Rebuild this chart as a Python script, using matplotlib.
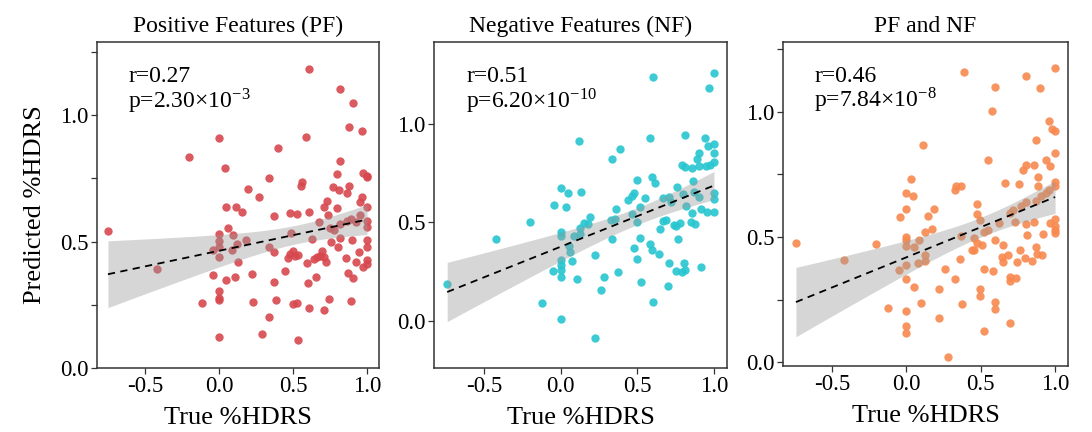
import numpy as np
import matplotlib
matplotlib.use("Agg")
import matplotlib.pyplot as plt

plt.rcParams['font.family'] = ['Liberation Serif', 'DejaVu Serif']
plt.rcParams['mathtext.fontset'] = 'stix'

# ---------------- data ----------------
titles = ["Positive Features (PF)", "Negative Features (NF)", "PF and NF"]
r_labels = ["r=0.27", "r=0.51", "r=0.46"]
p_labels = [r"p=2.30×10$^{\mathregular{-3}}$", r"p=6.20×10$^{\mathregular{-10}}$",
            r"p=7.84×10$^{\mathregular{-8}}$"]
x_label = "True %HDRS"
y_label = "Predicted %HDRS"
x_ticks = [-0.5, 0.0, 0.5, 1.0]

pf_x = [-0.75, -0.42, -0.20, 0.00, 0.04, 0.05, 0.115, 0.063, 0.00, 0.097, 0.00, 0.00,
        -0.04, 0.086, 0.124, 0.00, 0.13, -0.043, 0.05, 0.108, 0.00, 0.00, 0.00, -0.115,
        0.00,
        0.606, 0.815, 0.908, 0.878, 0.968, 0.588, 0.396, 0.82, 0.797, 0.971, 1.00, 1.00,
        0.338, 0.561, 0.554, 0.198, 0.77, 0.813, 0.878, 0.863, 0.272, 0.968, 0.953,
        0.728, 0.712, 0.80, 1.00, 0.157, 0.37, 0.48, 0.525, 0.606, 0.739, 0.673, 0.82,
        0.865, 0.89, 0.926, 0.955, 1.00, 1.00, 0.752, 0.775, 0.484, 0.628, 0.18, 0.755,
        0.815, 0.899, 1.00, 0.336, 0.806, 1.00, 0.37, 0.502, 0.482, 0.468, 0.514, 0.536,
        0.696, 0.684, 0.66, 0.644, 0.712, 0.856, 0.944, 0.592, 0.725, 0.926, 1.00, 0.975,
        1.00, 0.446, 0.225, 0.874, 0.655, 0.603, 0.903, 0.374, 0.23, 0.383, 0.502,
        0.529, 0.606, 0.709, 0.743, 0.89, 0.338, 0.29, 0.532]
pf_y = [0.54, 0.39, 0.835, 0.91, 0.79, 0.635, 0.635, 0.555, 0.53, 0.524, 0.503, 0.477,
        0.466, 0.466, 0.49, 0.439, 0.42, 0.366, 0.347, 0.36, 0.304, 0.278, 0.27, 0.258,
        0.123,
        1.184, 1.105, 1.047, 0.954, 0.937, 0.913, 0.87, 0.82, 0.769, 0.772, 0.759, 0.755,
        0.752, 0.736, 0.719, 0.709, 0.715, 0.702, 0.719, 0.692, 0.677, 0.677, 0.655,
        0.66, 0.636, 0.631, 0.635, 0.617, 0.60, 0.611, 0.607, 0.617, 0.606, 0.577, 0.568,
        0.583, 0.589, 0.578, 0.605, 0.582, 0.559, 0.555, 0.545, 0.532, 0.51, 0.505, 0.50,
        0.513, 0.507, 0.505, 0.48, 0.48, 0.477, 0.457, 0.464, 0.449, 0.434, 0.441, 0.447,
        0.464, 0.444, 0.439, 0.432, 0.439, 0.434, 0.457, 0.416, 0.42, 0.418, 0.427, 0.40,
        0.413, 0.385, 0.37, 0.377, 0.358, 0.337, 0.354, 0.341, 0.261, 0.269, 0.253,
        0.258, 0.236, 0.23, 0.271, 0.263, 0.202, 0.134, 0.109]

nf_x = [-0.74, -0.42, -0.203, -0.122, 0.00, 0.118, 0.00, 0.048, 0.131, -0.044, 0.037,
        0.00, 0.00, 0.087, 0.128, 0.126, 0.15, 0.054, 0.059, 0.076, 0.00, 0.00, 0.00,
        -0.048, 0.00, 0.105,
        0.601, 1.00, 0.969, 0.584, 0.808, 0.39, 0.333, 0.943, 0.958, 1.00, 1.00, 0.902,
        0.889, 0.789, 0.81, 0.858, 0.902, 0.946, 0.972, 1.00, 0.595, 0.616, 0.499, 0.86,
        0.762, 0.479, 0.468, 0.551, 0.44, 0.667, 0.708, 0.723, 0.799, 0.871, 0.903,
        0.815, 1.00, 1.00, 1.00, 0.915, 0.954, 0.858, 0.518, 0.364, 0.19, 0.178, 0.331,
        0.357, 0.466, 0.499, 0.667, 0.688, 0.651, 0.739, 0.776, 0.848, 0.876, 0.752,
        0.333, 0.516, 0.767, 0.584, 0.597, 0.643, 0.479, 0.496, 0.222, 0.706, 0.806,
        0.81, 0.752, 0.793, 0.913, 0.376, 0.285, 0.266, 0.527, 0.701, 0.601, 0.222]
nf_y = [0.188, 0.418, 0.504, 0.09, 0.009, 0.912, 0.675, 0.648, 0.655, 0.587, 0.58,
        0.45, 0.431, 0.431, 0.442, 0.474, 0.496, 0.381, 0.352, 0.305, 0.31, 0.284, 0.259,
        0.254, 0.223, 0.213,
        1.24, 1.26, 1.181, 0.93, 0.944, 0.873, 0.821, 0.93, 0.888, 0.897, 0.851, 0.851,
        0.822, 0.792, 0.782, 0.778, 0.787, 0.788, 0.792, 0.807, 0.729, 0.702, 0.716,
        0.712, 0.679, 0.651, 0.636, 0.623, 0.614, 0.623, 0.631, 0.602, 0.643, 0.655,
        0.631, 0.585, 0.651, 0.618, 0.552, 0.567, 0.555, 0.55, 0.58, 0.567, 0.529, 0.491,
        0.513, 0.518, 0.543, 0.504, 0.508, 0.513, 0.467, 0.487, 0.499, 0.503, 0.491,
        0.484, 0.418, 0.421, 0.415, 0.389, 0.359, 0.34, 0.369, 0.316, 0.333, 0.296,
        0.296, 0.259, 0.252, 0.247, 0.272, 0.247, 0.222, 0.154, 0.195, 0.179, 0.096,
        -0.09]

both_x = [-0.743, -0.422, -0.204, -0.121, 0.114, 0.034, 0.00, 0.047, 0.00, -0.045, 0.143,
          0.00, 0.00, 0.085, 0.128, 0.00, 0.054, 0.076, 0.126, 0.126, 0.00, -0.047, 0.00,
          0.049, 0.101, 0.00, 0.00, 0.00,
          0.386, 0.599, 0.806, 0.898, 0.999, 0.579, 0.958, 0.979, 0.999, 0.869, 1.00,
          0.552, 0.936, 0.963, 0.806, 0.855, 0.786, 0.884, 0.997, 0.999, 0.887, 0.958,
          0.941, 0.335, 0.364, 0.33, 0.665, 0.756, 0.904, 0.873, 0.806, 0.772, 0.716,
          0.698, 0.732, 0.806, 0.855, 0.999, 0.963, 0.999, 1.00, 1.00, 0.916, 0.808,
          0.476, 0.474, 0.496, 0.62, 0.552, 0.521, 0.37, 0.456, 0.186, 0.173, 0.595,
          0.474, 0.51, 0.438, 0.458, 0.649, 0.761, 0.869, 0.877, 0.911, 0.64, 0.685,
          0.649, 0.745, 0.797, 0.842, 0.362, 0.263, 0.521, 0.584, 0.33, 0.694, 0.698,
          0.738, 0.218, 0.496, 0.496, 0.375, 0.597, 0.597, 0.222, 0.70, 0.525, 0.283]
both_y = [0.477, 0.41, 0.471, 0.218, 0.867, 0.732, 0.677, 0.665, 0.614, 0.579, 0.586,
          0.499, 0.49, 0.49, 0.521, 0.466, 0.462, 0.397, 0.406, 0.43, 0.388, 0.369, 0.331,
          0.303, 0.239, 0.207, 0.145, 0.118,
          1.158, 1.097, 1.142, 1.093, 1.174, 1.001, 0.963, 0.931, 0.925, 0.887, 0.835,
          0.808, 0.806, 0.782, 0.789, 0.789, 0.769, 0.741, 0.72, 0.702, 0.702, 0.689,
          0.676, 0.702, 0.702, 0.686, 0.714, 0.71, 0.663, 0.643, 0.639, 0.625, 0.607,
          0.596, 0.562, 0.554, 0.559, 0.573, 0.557, 0.543, 0.53, 0.517, 0.511, 0.51,
          0.632, 0.594, 0.57, 0.557, 0.53, 0.519, 0.503, 0.498, 0.612, 0.534, 0.489,
          0.477, 0.47, 0.45, 0.45, 0.467, 0.45, 0.461, 0.434, 0.427, 0.422, 0.427,
          0.401, 0.40, 0.417, 0.404, 0.413, 0.372, 0.373, 0.364, 0.333, 0.341, 0.324,
          0.336, 0.295, 0.292, 0.267, 0.235, 0.24, 0.215, 0.179, 0.157, 0.124, 0.023]

point_colors = ["#d6484e", "#27c6d0", "#f8894f"]
xlims = [(-0.824, 1.081), (-0.826, 1.085), (-0.83, 1.087)]
ylims = [(0.0, 1.289), (-0.24, 1.417), (-0.014, 1.278)]
yticks = [[0, 0.25, 0.5, 0.75, 1.0, 1.25], [0, 0.5, 1.0], [0, 0.25, 0.5, 0.75, 1.0, 1.25]]
ylabels_shown = [0.0, 0.5, 1.0]

xs = [pf_x, nf_x, both_x]
ys = [pf_y, nf_y, both_y]

# ---------------- figure ----------------
W, H = 1092, 432
fig = plt.figure(figsize=(W / 100, H / 100), dpi=100)
boxes = [(97, 379, 42, 368), (434, 727, 42, 368), (783, 1068, 42, 366)]

for i in range(3):
    l, r, t, b = boxes[i]
    ax = fig.add_axes([l / W, (H - b) / H, (r - l) / W, (b - t) / H])
    x = np.asarray(xs[i], float)
    y = np.asarray(ys[i], float)

    ax.scatter(x, y, s=36, color=point_colors[i], alpha=0.9, linewidths=0, zorder=2)

    # linear fit with 95% confidence band
    n = len(x)
    A = np.vstack([np.ones(n), x]).T
    beta, *_ = np.linalg.lstsq(A, y, rcond=None)
    resid = y - A @ beta
    s2 = resid @ resid / (n - 2)
    xx = np.linspace(x.min(), x.max(), 80)
    xm = x.mean()
    sxx = ((x - xm) ** 2).sum()
    yy = beta[0] + beta[1] * xx
    se = np.sqrt(s2 * (1 / n + (xx - xm) ** 2 / sxx))
    tq = 1.98
    ax.fill_between(xx, yy - tq * se, yy + tq * se, color="#999999", alpha=0.4,
                    linewidth=0, zorder=3)
    ax.plot(xx, yy, color="black", lw=1.3, ls=(0, (4, 3)), zorder=4)

    ax.set_xlim(*xlims[i])
    ax.set_ylim(*ylims[i])
    ax.set_xticks(x_ticks)
    ax.set_xticklabels([f"{v:.1f}" for v in x_ticks])
    ax.set_yticks(yticks[i])
    ax.set_yticklabels([f"{v:.1f}" if any(abs(v - s) < 1e-9 for s in ylabels_shown) else ""
                        for v in yticks[i]])
    ax.tick_params(direction="out", length=4, width=0.9, color="#333333",
                   labelsize=16.5, pad=2)
    for sp in ax.spines.values():
        sp.set_color("#333333")
        sp.set_linewidth(1.1)

    ax.set_title(titles[i], fontsize=17, pad=7)
    ax.set_xlabel(x_label, fontsize=19, labelpad=7)
    if i == 0:
        ax.set_ylabel(y_label, fontsize=19, labelpad=10)

    ax.text(0.11, 0.878, r_labels[i], transform=ax.transAxes, fontsize=17,
            va="baseline", ha="left")
    ax.text(0.11, 0.797, p_labels[i], transform=ax.transAxes, fontsize=17,
            va="baseline", ha="left")

fig.savefig("out.png", dpi=100)
